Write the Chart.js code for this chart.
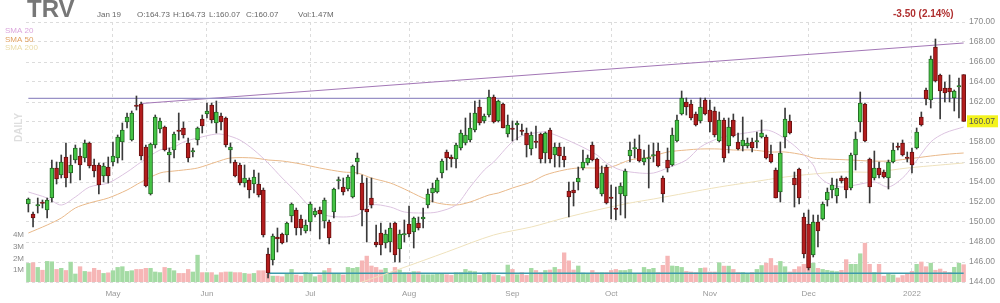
<!DOCTYPE html>
<html>
<head>
<meta charset="utf-8">
<script src="https://cdn.jsdelivr.net/npm/chart.js"></script>
<style>
  html, body { margin: 0; background: #fff; }
  #wrap { width: 1000px; height: 303px; position: relative; }
</style>
</head>
<body>
<div id="wrap"><canvas id="chart"></canvas></div>
<script>
// TRV daily, Apr 7 2021 - Jan 19 2022
const tradingDays = {
  "2021-04": [7,8,9,12,13,14,15,16,19,20,21,22,23,26,27,28,29,30],
  "2021-05": [3,4,5,6,7,10,11,12,13,14,17,18,19,20,21,24,25,26,27,28],
  "2021-06": [1,2,3,4,7,8,9,10,11,14,15,16,17,18,21,22,23,24,25,28,29,30],
  "2021-07": [1,2,6,7,8,9,12,13,14,15,16,19,20,21,22,23,26,27,28,29,30],
  "2021-08": [2,3,4,5,6,9,10,11,12,13,16,17,18,19,20,23,24,25,26,27,30,31],
  "2021-09": [1,2,3,7,8,9,10,13,14,15,16,17,20,21,22,23,24,27,28,29,30],
  "2021-10": [1,4,5,6,7,8,11,12,13,14,15,18,19,20,21,22,25,26,27,28,29],
  "2021-11": [1,2,3,4,5,8,9,10,11,12,15,16,17,18,19,22,23,24,26,29,30],
  "2021-12": [1,2,3,6,7,8,9,10,13,14,15,16,17,20,21,22,23,27,28,29,30,31],
  "2022-01": [3,4,5,6,7,10,11,12,13,14,18,19]
};
const monthNames = {"2021-05":"May","2021-06":"Jun","2021-07":"Jul","2021-08":"Aug",
  "2021-09":"Sep","2021-10":"Oct","2021-11":"Nov","2021-12":"Dec","2022-01":"2022"};

const opens = [
  151.8,150.8,151.6,151.9,151.2,152.4,155.4,154.7,156.5,154.9,
  156.2,156.6,156.4,157.9,155.7,155.7,154.6,155.5,156.0,156.4,
  158.0,160.0,158.2,161.6,161.8,157.5,152.8,157.7,159.3,159.5,
  156.7,157.2,159.1,159.4,157.9,157.0,158.2,160.3,160.8,161.7,
  159.9,160.6,160.4,157.2,156.0,155.7,153.9,154.2,153.8,153.8,
  153.2,146.8,146.2,148.5,148.8,148.7,150.6,151.2,150.3,149.1,
  150.0,150.7,151.2,150.1,150.0,151.0,154.1,153.5,153.3,152.5,
  156.0,153.9,151.3,152.4,148.0,148.9,147.9,148.0,149.9,147.3,
  148.7,149.8,149.0,149.9,150.3,151.7,152.9,153.0,154.9,157.0,
  156.5,156.3,157.4,157.9,158.2,159.2,161.5,160.1,160.7,162.5,
  160.1,161.8,158.8,159.3,159.7,159.1,158.9,157.3,158.0,158.8,
  156.9,159.2,156.7,157.5,156.6,153.1,153.2,154.0,155.4,155.9,
  157.7,156.3,152.8,155.5,152.4,151.3,152.8,152.6,156.6,157.3,
  157.3,156.0,156.3,156.6,157.1,154.4,156.2,155.7,158.1,160.8,
  162.0,161.8,160.8,160.1,162.2,161.2,161.1,158.1,160.2,157.6,
  160.2,158.0,157.6,157.6,158.0,158.0,158.5,158.5,156.8,155.2,
  153.0,158.5,160.1,154.4,155.3,150.5,149.8,146.7,150.0,150.3,
  152.2,153.2,152.6,154.4,154.4,153.4,156.7,160.0,161.8,156.3,
  154.4,155.4,155.0,154.4,156.0,157.5,157.9,156.4,157.0,157.4,
  160.5,163.2,162.2,167.5,164.7,163.4,163.4,162.4,163.5,164.73
];
const highs = [
  152.4,151.0,152.4,152.2,152.4,156.2,156.0,156.7,157.9,156.7,
  157.7,157.4,158.2,158.0,156.3,155.9,155.9,156.5,158.0,158.7,
  159.9,160.9,161.1,162.6,162.0,157.7,157.9,160.7,160.4,159.6,
  157.4,159.0,160.9,160.0,158.4,157.4,159.5,160.7,161.9,161.9,
  162.1,160.9,160.5,157.9,156.2,155.9,155.7,154.4,155.2,154.9,
  153.4,147.4,148.8,149.4,148.9,150.0,151.9,151.4,150.7,150.2,
  152.0,151.4,151.5,152.4,150.2,153.4,154.5,154.4,154.7,155.7,
  156.9,154.7,154.4,154.4,149.7,149.9,149.2,149.9,150.0,149.2,
  150.2,151.6,150.5,150.5,151.4,153.3,153.9,154.4,156.3,157.2,
  156.7,157.9,159.2,160.4,160.9,162.1,162.2,160.8,163.2,162.7,
  162.2,161.9,160.7,160.1,160.1,159.8,159.4,159.0,159.6,158.9,
  159.0,159.4,157.9,157.9,157.5,154.0,154.0,155.5,157.2,156.7,
  158.0,156.4,155.6,155.7,153.7,153.5,153.9,155.3,158.0,158.3,
  158.7,157.2,157.7,157.9,157.9,154.6,157.4,159.4,160.7,163.1,
  162.4,162.2,161.0,162.4,162.4,162.2,161.5,161.0,160.4,160.4,
  160.8,158.9,160.5,158.4,158.4,159.0,160.2,158.7,157.7,155.4,
  158.0,161.4,160.7,155.0,155.4,150.9,151.2,150.7,150.7,152.0,
  153.4,154.4,154.3,154.6,154.5,156.9,159.0,163.0,161.9,156.4,
  157.1,156.0,155.2,156.2,157.9,157.9,158.2,157.0,157.4,159.4,
  161.0,163.4,166.6,168.3,164.8,164.0,164.7,163.2,164.4,164.73
];
const lows = [
  151.0,149.5,150.9,151.4,150.4,152.0,153.8,154.4,153.5,153.9,
  155.9,154.2,156.0,155.4,154.5,152.8,154.0,153.9,155.6,155.9,
  156.2,159.4,158.1,161.2,156.2,153.5,152.7,157.4,158.9,157.1,
  154.0,156.4,158.2,158.4,156.0,156.5,157.7,158.9,160.4,159.9,
  158.9,159.2,157.5,155.9,154.5,153.7,153.5,152.4,152.9,152.5,
  148.5,144.4,145.7,147.0,147.8,148.0,150.0,148.7,148.7,148.9,
  149.1,150.5,148.3,149.4,147.8,150.4,153.3,152.7,153.1,152.4,
  154.8,149.6,148.0,151.4,147.5,146.7,147.4,147.0,146.0,146.0,
  148.0,148.5,147.4,149.2,149.4,151.4,152.0,152.9,154.4,155.2,
  155.5,155.4,157.2,157.7,158.0,159.0,159.7,159.9,160.5,159.9,
  160.0,159.4,158.5,158.1,158.2,158.7,156.5,156.7,157.4,155.9,
  155.9,155.9,155.5,155.5,155.5,150.5,151.6,153.2,155.2,155.7,
  156.1,153.3,152.6,151.8,150.3,150.2,150.7,150.4,156.0,156.4,
  156.0,155.7,153.4,156.0,155.5,152.0,155.0,155.6,158.0,160.7,
  160.7,160.2,159.6,159.9,160.7,159.0,158.5,158.0,156.0,156.9,
  158.5,157.2,157.1,157.4,157.0,157.4,158.4,156.3,155.9,152.4,
  152.0,157.4,158.8,151.5,151.8,146.4,145.2,146.5,147.5,150.2,
  151.6,152.4,151.9,153.9,152.4,153.2,155.2,159.0,158.0,151.9,
  154.2,154.4,154.4,153.3,155.9,157.2,156.6,156.0,154.9,157.3,
  159.6,161.7,161.4,164.0,160.3,162.0,162.0,161.1,160.4,160.07
];
const closes = [
  152.3,150.4,151.7,151.85,152.2,155.4,154.3,156.0,154.4,155.7,
  157.4,155.7,157.9,155.6,155.1,153.7,155.6,154.6,156.6,158.5,
  159.2,160.5,160.9,161.55,156.6,153.6,157.8,160.5,160.1,157.2,
  157.0,158.8,159.05,158.7,156.4,157.1,159.4,159.6,161.1,160.2,
  161.0,160.0,157.7,157.5,154.6,153.9,154.4,153.2,154.5,152.7,
  148.7,144.9,148.6,148.3,147.9,149.9,151.8,149.4,149.4,149.7,
  151.8,151.1,150.8,152.2,148.4,153.3,154.15,153.0,154.5,155.6,
  156.4,151.2,151.0,151.7,147.7,147.7,148.8,149.4,146.7,148.8,
  148.8,148.8,150.4,149.4,150.5,152.8,153.4,154.2,156.1,156.4,
  156.3,157.7,158.9,158.7,159.4,160.9,159.9,160.6,162.5,160.0,
  162.1,159.4,159.7,159.25,159.9,159.05,157.7,158.7,157.95,156.3,
  158.9,156.3,157.5,156.6,156.2,152.5,152.9,154.4,156.0,156.4,
  156.2,153.4,154.9,151.9,152.35,151.25,153.6,155.1,157.2,157.35,
  156.1,156.4,156.35,156.65,155.6,152.8,155.4,158.7,160.2,162.4,
  161.5,160.4,159.7,161.5,160.8,160.0,158.7,160.2,156.4,159.5,
  158.6,157.3,158.2,157.9,157.4,158.05,158.9,156.4,156.0,152.4,
  156.9,160.3,158.9,153.7,152.4,146.8,145.4,150.0,149.1,151.8,
  153.0,153.7,153.4,154.1,153.2,156.7,158.3,161.9,158.1,153.5,
  155.4,154.7,154.5,156.0,157.2,157.45,156.7,156.35,155.7,159.0,
  159.7,162.3,166.3,164.1,163.1,162.9,163.0,163.1,163.57,160.07
];
// volume in millions
const volumes = [
  1.58,1.64,1.24,1.0,1.75,1.72,1.07,1.16,0.98,1.69,
  0.68,1.3,0.9,0.85,1.16,1.0,0.73,0.78,0.96,1.24,
  1.3,0.9,0.96,1.07,1.07,1.16,1.16,0.85,0.8,1.24,
  1.16,0.96,0.73,0.73,1.07,0.85,2.28,0.8,0.8,0.8,
  0.6,0.8,0.85,0.85,0.8,0.8,0.73,0.68,0.73,0.96,
  0.96,0.68,0.5,0.5,0.45,0.68,1.07,0.6,0.5,0.8,
  0.73,0.45,0.6,0.96,1.16,0.73,0.73,0.6,1.24,1.16,
  1.24,1.8,2.2,1.36,1.24,1.02,1.16,0.79,1.24,1.02,
  0.79,0.79,0.88,0.88,0.62,0.62,0.62,0.7,0.7,0.62,
  0.56,0.79,0.79,1.07,0.93,0.88,0.56,0.7,0.79,0.62,
  0.56,0.45,1.44,1.07,0.62,0.79,0.56,1.16,0.98,0.79,
  0.98,1.02,1.24,1.07,2.48,1.8,1.02,1.36,0.76,0.73,
  0.98,0.79,0.79,0.79,0.98,1.07,0.98,0.98,1.07,0.73,
  0.7,1.24,1.07,1.16,0.8,1.42,2.2,1.36,1.33,1.24,
  0.9,0.85,0.8,1.16,1.2,0.85,0.85,1.64,1.35,1.35,
  1.07,0.8,0.8,0.73,0.8,1.07,1.4,1.6,2.0,1.4,
  1.75,1.3,0.85,1.07,1.3,1.5,2.2,1.6,1.16,1.07,
  0.99,0.93,0.88,0.99,1.9,1.5,1.5,2.4,3.3,1.5,
  0.8,1.5,0.5,0.7,0.6,0.35,0.55,0.65,0.9,1.5,
  1.7,1.3,1.6,1.0,1.1,0.9,0.8,1.25,1.6,1.47
];
const avgVolume = 0.75;      // flat volume line, from candle 52 on
const avgVolumeFrom = 52;

// moving averages: [candle number, value]
const sma20 = [[1,153.0],[5,152.4],[8,151.7],[11,152.5],[14,153.5],[18,153.9],[22,155.0],[25,156.0],
  [29,157.2],[32,157.5],[34,158.0],[37,158.4],[41,158.8],[43,158.7],[46,158.2],[49,157.2],[52,155.9],
  [55,154.4],[58,153.0],[61,151.5],[64,150.7],[68,150.5],[71,150.7],[74,151.7],[78,151.5],[81,151.0],
  [85,150.9],[88,151.0],[92,151.7],[95,153.5],[98,155.2],[100,156.0],[105,158.4],[110,159.0],[112,158.9],
  [118,157.7],[122,156.7],[124,155.9],[127,155.2],[131,154.9],[134,154.9],[137,155.4],[141,156.2],
  [144,157.5],[148,158.4],[151,158.7],[155,159.0],[158,159.2],[160,158.9],[163,158.0],[165,157.2],
  [168,155.7],[169,154.7],[171,153.9],[174,153.5],[177,153.7],[181,154.0],[184,153.5],[187,154.4],
  [189,155.5],[193,158.0],[196,158.9],[200,159.5]];
const sma50 = [[1,148.9],[5,149.7],[8,150.4],[11,151.4],[14,151.9],[18,152.4],[22,153.2],[25,154.0],
  [29,154.9],[32,155.1],[34,155.2],[37,155.4],[41,156.0],[44,156.4],[49,156.4],[52,156.2],[55,156.1],
  [59,155.8],[63,155.4],[68,155.0],[71,154.9],[74,154.4],[78,153.9],[81,153.3],[85,152.4],[88,151.9],
  [92,151.7],[95,152.0],[99,152.7],[101,152.9],[104,153.4],[108,154.0],[111,154.7],[115,155.2],
  [118,155.4],[122,155.4],[125,155.5],[129,156.2],[132,156.4],[134,156.6],[137,157.0],[141,157.2],
  [144,157.3],[148,157.3],[151,157.2],[155,157.2],[159,157.0],[162,157.0],[166,156.7],[168,156.4],
  [171,156.3],[176,156.2],[180,156.1],[184,156.1],[188,156.3],[193,156.6],[197,156.8],[200,156.9]];
const sma200 = [[68,143.4],[72,144.0],[80,145.3],[90,147.0],[100,148.7],[108,149.5],[115,150.4],
  [122,151.2],[129,151.9],[134,152.3],[141,152.9],[148,153.5],[155,154.0],[162,154.5],[168,154.8],
  [174,155.0],[181,155.0],[188,155.4],[195,155.7],[200,155.9]];
// drawn trend lines: [candle number, price]
const levelLine = [[1,162.37],[200,162.37]];
const trendLine = [[25,161.85],[200,167.9]];

const priceTicks = [144,146,148,150,152,154,156,158,160,162,164,166,168,170];
const volumeTicks = [1,2,3,4];

// ---- build ----
const labels = [];
const monthStart = {};
Object.keys(tradingDays).forEach(m => {
  tradingDays[m].forEach((d, k) => {
    if (k === 0 && monthNames[m]) monthStart[labels.length] = monthNames[m];
    labels.push(m + "-" + String(d).padStart(2, "0"));
  });
});
const n = labels.length;
const isUp = closes.map((c, i) => c >= opens[i]);

function sparse(pts) {
  const arr = new Array(n).fill(null);
  pts.forEach(([i, v]) => { arr[i - 1] = v; });
  return arr;
}
const avgVolData = volumes.map((v, i) => (i >= avgVolumeFrom - 1 ? avgVolume : null));

const FONT = '"Liberation Sans", Arial, sans-serif';
Chart.defaults.font.family = FONT;

const overlay = {
  id: "overlay",
  afterDraw(chart) {
    const ctx = chart.ctx;
    const last = n - 1;
    ctx.save();
    ctx.textBaseline = "alphabetic";
    ctx.fillStyle = "#777";
    ctx.font = "bold 24px " + FONT;
    ctx.fillText("TRV", 27, 17);

    ctx.font = "8px " + FONT;
    ctx.fillStyle = "#666";
    ctx.fillText("Jan 19", 97, 17);
    ctx.fillText("O:" + opens[last].toFixed(2), 137, 17);
    ctx.fillText("H:" + highs[last].toFixed(2), 173, 17);
    ctx.fillText("L:" + lows[last].toFixed(2), 209, 17);
    ctx.fillText("C:" + closes[last].toFixed(2), 246, 17);
    ctx.fillText("Vol:" + volumes[last].toFixed(2) + "M", 298, 17);

    ctx.fillStyle = "#dba6dc";
    ctx.fillText("SMA 20", 5, 33);
    ctx.fillStyle = "#e0a060";
    ctx.fillText("SMA 50", 5, 41.5);
    ctx.fillStyle = "#eadba6";
    ctx.fillText("SMA 200", 5, 50);

    ctx.font = "bold 10px " + FONT;
    ctx.fillStyle = "#b03030";
    ctx.fillText("-3.50 (2.14%)", 893, 17);

    // DAILY, vertical
    ctx.save();
    ctx.translate(22, 142);
    ctx.rotate(-Math.PI / 2);
    ctx.font = "bold 10px " + FONT;
    ctx.fillStyle = "#dedede";
    ctx.fillText("DAILY", 0, 0);
    ctx.restore();

    // last price box
    const y = chart.scales.y.getPixelForValue(closes[last]);
    ctx.fillStyle = "#f3f31c";
    ctx.fillRect(967, y - 6, 31, 12);
    ctx.fillStyle = "#555";
    ctx.font = "8.5px " + FONT;
    ctx.textBaseline = "middle";
    ctx.fillText(closes[last].toFixed(2), 969, y + 0.5);
    ctx.restore();
  }
};

new Chart(document.getElementById("chart"), {
  type: "bar",
  data: {
    labels: labels,
    datasets: [
      {
        label: "body",
        data: opens.map((o, i) => [o, closes[i]]),
        backgroundColor: isUp.map(u => (u ? "#45c445" : "#b31d1d")),
        borderColor: isUp.map(u => (u ? "#226a22" : "#6a1010")),
        borderWidth: 1,
        borderSkipped: false,
        barThickness: 4,
        minBarLength: 1.5,
        grouped: false,
        order: 0
      },
      {
        label: "wick",
        data: lows.map((l, i) => [l, highs[i]]),
        backgroundColor: "#3a3a3a",
        barThickness: 1,
        grouped: false,
        order: 1
      },
      {
        type: "line", label: "level", data: sparse(levelLine), spanGaps: true,
        borderColor: "#9891c6", borderWidth: 1.2, pointRadius: 0, order: 2
      },
      {
        type: "line", label: "trend", data: sparse(trendLine), spanGaps: true,
        borderColor: "#a377b6", borderWidth: 1.2, pointRadius: 0, order: 2
      },
      {
        type: "line", label: "SMA 20", data: sparse(sma20), spanGaps: true, tension: 0.3,
        borderColor: "#dcc3e0", borderWidth: 1, pointRadius: 0, order: 3
      },
      {
        type: "line", label: "SMA 50", data: sparse(sma50), spanGaps: true, tension: 0.3,
        borderColor: "#e9b98a", borderWidth: 1, pointRadius: 0, order: 3
      },
      {
        type: "line", label: "SMA 200", data: sparse(sma200), spanGaps: true, tension: 0.3,
        borderColor: "#efe2bd", borderWidth: 1, pointRadius: 0, order: 3
      },
      {
        type: "line", label: "avg vol", data: avgVolData, yAxisID: "yv",
        borderColor: "#3d9aab", borderWidth: 1.5, pointRadius: 0, order: 4
      },
      {
        label: "volume",
        data: volumes,
        yAxisID: "yv",
        backgroundColor: isUp.map(u => (u ? "#a4dba4" : "#f6b6b6")),
        barThickness: 3.7,
        grouped: false,
        order: 5
      }
    ]
  },
  options: {
    responsive: true,
    maintainAspectRatio: false,
    animation: false,
    layout: { padding: { top: 22, left: 0, right: 0, bottom: 0 } },
    plugins: { legend: { display: false }, tooltip: { enabled: false } },
    scales: {
      x: {
        offset: true,
        grid: { offset: false, color: "#dcdcdc", drawTicks: false },
        border: { display: false, dash: [3, 3] },
        afterBuildTicks: s => { s.ticks = Object.keys(monthStart).map(k => ({ value: +k })); },
        afterFit: s => { s.height = 21; },
        ticks: {
          autoSkip: false, maxRotation: 0, padding: 7,
          color: "#999", font: { size: 8 },
          callback: v => monthStart[v] || ""
        }
      },
      y: {
        position: "right",
        min: 144, max: 170,
        afterBuildTicks: s => { s.ticks = priceTicks.map(v => ({ value: v })); },
        afterFit: s => { s.width = 34; },
        grid: { color: "#dcdcdc", drawTicks: false },
        border: { display: false, dash: [3, 3] },
        ticks: { padding: 3, color: "#8a8a8a", font: { size: 8.5 }, callback: v => v.toFixed(2) }
      },
      yv: {
        position: "left",
        min: 0, max: 22.1,
        afterBuildTicks: s => { s.ticks = volumeTicks.map(v => ({ value: v })); },
        afterFit: s => { s.width = 26; },
        grid: { display: false, drawTicks: false },
        border: { display: false },
        ticks: { padding: 2, color: "#8a8a8a", font: { size: 8 }, callback: v => v + "M" }
      }
    }
  },
  plugins: [overlay]
});
</script>
</body>
</html>
